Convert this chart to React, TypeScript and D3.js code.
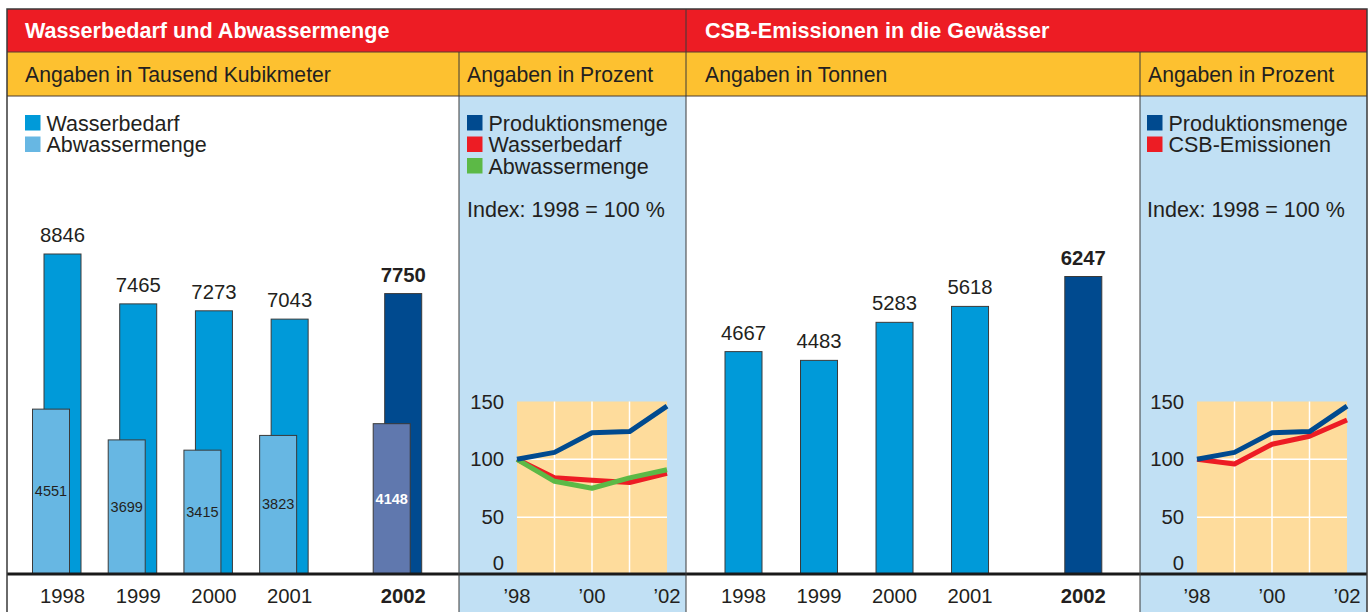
import React from 'react';
import * as d3 from 'd3';

// ---------- data ----------
const years = ['1998', '1999', '2000', '2001', '2002'];
const wasserbedarf = [8846, 7465, 7273, 7043, 7750];
const abwassermenge = [4551, 3699, 3415, 3823, 4148];
const csbEmissionen = [4667, 4483, 5283, 5618, 6247];

const indexYears = ['98', '99', '00', '01', '02'];
const indexTickYears = ['98', '00', '02'];
const indexTicks = [0, 50, 100, 150];
const prodIndex = [100, 106, 123, 124, 146];
const wasserIndex = [100, 84, 82, 80, 88];
const abwasserIndex = [100, 81, 75, 84, 91];
const csbIndex = [100, 96, 113, 120, 134];

// ---------- styling ----------
const FONT = "'Liberation Sans', Arial, Helvetica, sans-serif";
const C = {
  red: '#ed1c24',
  yellow: '#fdc130',
  panelBlue: '#c1e0f4',
  plot: '#fedc9c',
  text: '#231f20',
  frame: '#3a3a3a',
  wasser: '#009ad9',
  abwasser: '#67b7e3',
  dark: '#004a8f',
  abwasserDark: '#6078ae',
  green: '#5cb946',
};

const W = 1372;
const H = 612;
const BASE = 574;
const last = years.length - 1;
const slotOf = (i: number) => (i === last ? i + 0.5 : i);

const xBar1 = d3.scaleLinear().domain([0, 4.5]).range([62.5, 403.2]);
const xBar2 = d3.scaleLinear().domain([0, 4.5]).range([743.5, 1083.3]);
const yBar1 = d3.scaleLinear().domain([0, 8846]).range([573.5, 254]);
const yBar2 = d3.scaleLinear().domain([0, 6247]).range([573.5, 276.5]);
const BW = 37;

const xIdx1 = d3.scalePoint<string>().domain(indexYears).range([517, 667]);
const xIdx2 = d3.scalePoint<string>().domain(indexYears).range([1197, 1347]);
const yIdx = d3.scaleLinear().domain([0, 150]).range([575, 401.5]);

const HEAD = 21.6;
const SUB = 21.2;
const LEG = 21.5;
const NUM = 20.3;

function IndexChart({ x, labelRight, series }: { x: d3.ScalePoint<string>; labelRight: number; series: { values: number[]; color: string }[] }) {
  const line = d3
    .line<number>()
    .x((_, i) => x(indexYears[i]) as number)
    .y((v) => yIdx(v));
  const [x0, x1] = x.range();
  return (
    <g>
      <rect x={x0} y={yIdx(150)} width={x1 - x0} height={yIdx(0) - yIdx(150)} fill={C.plot} />
      {indexYears.slice(1, -1).map((yr) => (
        <line key={yr} x1={x(yr)} x2={x(yr)} y1={yIdx(150)} y2={yIdx(0)} stroke="#fff" strokeWidth={1.5} />
      ))}
      {indexTicks.slice(1, -1).map((t) => (
        <line key={t} x1={x0} x2={x1} y1={yIdx(t)} y2={yIdx(t)} stroke="#fff" strokeWidth={1.5} />
      ))}
      {indexTicks.map((t) => (
        <text key={t} x={labelRight} y={t === 0 ? yIdx(t) - 5 : yIdx(t) + 7} textAnchor="end" fontSize={NUM} fill={C.text}>
          {t}
        </text>
      ))}
      {series.map((s, k) => (
        <path key={k} d={line(s.values) || ''} fill="none" stroke={s.color} strokeWidth={5} strokeLinejoin="round" />
      ))}
      {indexTickYears.map((yr) => (
        <text key={yr} x={x(yr)} y={603} textAnchor="middle" fontSize={NUM} fill={C.text}>
          {'\u2019' + yr}
        </text>
      ))}
    </g>
  );
}

function Legend({ x, y, items }: { x: number; y: number; items: { label: string; color: string }[] }) {
  return (
    <g>
      {items.map((it, i) => (
        <g key={it.label}>
          <rect x={x} y={y + i * 21.5} width={15.5} height={15.5} fill={it.color} />
          <text x={x + 21.5} y={y + 15.5 + i * 21.5} fontSize={LEG} fill={C.text}>
            {it.label}
          </text>
        </g>
      ))}
    </g>
  );
}

export default function App() {
  return (
    <svg width={W} height={H} style={{ position: 'absolute', left: 0, top: 0, fontFamily: FONT }}>
      <rect x={0} y={0} width={W} height={H} fill="#fff" />
      {/* header bands */}
      <rect x={7} y={9} width={1360} height={43} fill={C.red} />
      <rect x={7} y={52} width={1360} height={44} fill={C.yellow} />
      {/* blue index panels */}
      <rect x={459} y={96} width={227} height={H - 96} fill={C.panelBlue} />
      <rect x={1140} y={96} width={227} height={H - 96} fill={C.panelBlue} />

      {/* header text */}
      <text x={25} y={37.5} fontSize={HEAD} fontWeight="bold" fill="#fff">Wasserbedarf und Abwassermenge</text>
      <text x={705} y={37.5} fontSize={HEAD} fontWeight="bold" fill="#fff">CSB-Emissionen in die Gewässer</text>
      <text x={25} y={82} fontSize={SUB} fill={C.text}>Angaben in Tausend Kubikmeter</text>
      <text x={467} y={82} fontSize={SUB} fill={C.text}>Angaben in Prozent</text>
      <text x={705} y={82} fontSize={SUB} fill={C.text}>Angaben in Tonnen</text>
      <text x={1148} y={82} fontSize={SUB} fill={C.text}>Angaben in Prozent</text>

      {/* legends */}
      <Legend x={25} y={115} items={[{ label: 'Wasserbedarf', color: C.wasser }, { label: 'Abwassermenge', color: C.abwasser }]} />
      <Legend
        x={467}
        y={115}
        items={[
          { label: 'Produktionsmenge', color: C.dark },
          { label: 'Wasserbedarf', color: C.red },
          { label: 'Abwassermenge', color: C.green },
        ]}
      />
      <text x={467} y={217} fontSize={LEG} fill={C.text}>Index: 1998 = 100 %</text>
      <Legend
        x={1147}
        y={115}
        items={[
          { label: 'Produktionsmenge', color: C.dark },
          { label: 'CSB-Emissionen', color: C.red },
        ]}
      />
      <text x={1147} y={217} fontSize={LEG} fill={C.text}>Index: 1998 = 100 %</text>

      {/* bar panel 1 */}
      {years.map((yr, i) => {
        const cx = xBar1(slotOf(i));
        const isLast = i === last;
        const topW = yBar1(wasserbedarf[i]);
        const topA = yBar1(abwassermenge[i]);
        const ax = cx - BW / 2 - 11.5;
        return (
          <g key={yr}>
            <rect x={cx - BW / 2} y={topW} width={BW} height={yBar1(0) - topW} fill={isLast ? C.dark : C.wasser} stroke="#3a3a3a" strokeWidth={1} />
            <rect x={ax} y={topA} width={BW} height={yBar1(0) - topA} fill={isLast ? C.abwasserDark : C.abwasser} stroke="#3a3a3a" strokeWidth={1} />
            <text x={cx} y={topW - 12} textAnchor="middle" fontSize={NUM} fontWeight={isLast ? 'bold' : 'normal'} fill={C.text}>
              {wasserbedarf[i]}
            </text>
            <text x={ax + BW / 2} y={(topA + yBar1(0)) / 2 + 5} textAnchor="middle" fontSize={14.5} fontWeight={isLast ? 'bold' : 'normal'} fill={isLast ? '#fff' : C.text}>
              {abwassermenge[i]}
            </text>
            <text x={cx} y={603} textAnchor="middle" fontSize={NUM} fontWeight={isLast ? 'bold' : 'normal'} fill={C.text}>
              {yr}
            </text>
          </g>
        );
      })}

      {/* bar panel 2 */}
      {years.map((yr, i) => {
        const cx = xBar2(slotOf(i));
        const isLast = i === last;
        const top = yBar2(csbEmissionen[i]);
        return (
          <g key={yr}>
            <rect x={cx - BW / 2} y={top} width={BW} height={yBar2(0) - top} fill={isLast ? C.dark : C.wasser} stroke="#3a3a3a" strokeWidth={1} />
            <text x={cx} y={top - 12} textAnchor="middle" fontSize={NUM} fontWeight={isLast ? 'bold' : 'normal'} fill={C.text}>
              {csbEmissionen[i]}
            </text>
            <text x={cx} y={603} textAnchor="middle" fontSize={NUM} fontWeight={isLast ? 'bold' : 'normal'} fill={C.text}>
              {yr}
            </text>
          </g>
        );
      })}

      {/* index charts */}
      <IndexChart
        x={xIdx1}
        labelRight={504}
        series={[
          { values: wasserIndex, color: C.red },
          { values: abwasserIndex, color: C.green },
          { values: prodIndex, color: C.dark },
        ]}
      />
      <IndexChart
        x={xIdx2}
        labelRight={1184}
        series={[
          { values: csbIndex, color: C.red },
          { values: prodIndex, color: C.dark },
        ]}
      />

      {/* baseline */}
      <line x1={7} x2={1367} y1={BASE} y2={BASE} stroke="#1a1a1a" strokeWidth={3} />

      {/* frame & dividers */}
      <line x1={7} x2={1367} y1={52} y2={52} stroke="#5a3a30" strokeWidth={1} />
      <line x1={7} x2={1367} y1={96} y2={96} stroke="#4a3a30" strokeWidth={1} />
      <line x1={459} x2={459} y1={52} y2={H} stroke={C.frame} strokeWidth={1} />
      <line x1={686} x2={686} y1={9} y2={H} stroke={C.frame} strokeWidth={1} />
      <line x1={1140} x2={1140} y1={52} y2={H} stroke={C.frame} strokeWidth={1} />
      <rect x={7} y={9} width={1360} height={H} fill="none" stroke={C.frame} strokeWidth={1.5} />
    </svg>
  );
}
